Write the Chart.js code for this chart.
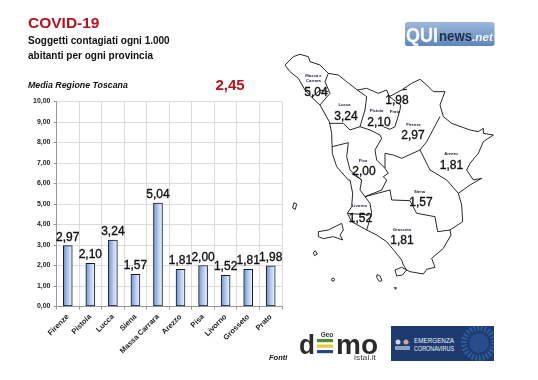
<!DOCTYPE html>
<html><head><meta charset="utf-8">
<script src="https://cdn.jsdelivr.net/npm/chart.js@4"></script>
<style>
html,body{margin:0;padding:0;background:#fff;width:538px;height:380px;overflow:hidden}
#wrap{position:relative;width:538px;height:380px;font-family:"Liberation Sans",Arial,sans-serif}
canvas,svg{position:absolute;left:0;top:0}
.t{position:absolute;white-space:nowrap;line-height:1}
</style></head><body>
<div id="wrap">
<canvas id="c" width="538" height="380"></canvas>
<svg width="538" height="380" viewBox="0 0 538 380" font-family="Liberation Sans, Arial, sans-serif">
 <defs>
  <linearGradient id="qg" x1="0" y1="0" x2="0" y2="1"><stop offset="0" stop-color="#9db9dc"/><stop offset="1" stop-color="#5f86bb"/></linearGradient>
 </defs>
 <g transform="translate(270,10) scale(.33333)" fill="none" stroke="#111" stroke-width="2.7" stroke-linejoin="round">
  <path d="M45,165 L70,140 L90,133 L115,140 L120,155 L150,165 L175,190 L205,195 L230,215 L262,240 L290,235 L325,250 L350,240 L358,260 L395,240 L410,238 L398,238 L425,220 L450,208 L470,225 L490,245 L525,245 L510,285 L520,320 L545,340 L600,360 L625,365 L640,355 L640,370 L670,375 L640,395 L625,430 L600,460 L590,480 L610,510 L635,505 L600,525 L565,550 L575,585 L578,635 L540,660 L543,675 L520,715 L485,745 L495,772 L470,778 L460,792 L420,785 L410,780 L400,765 L395,750 L375,725 L350,695 L320,675 L290,660 L245,635 L232,610 L245,590 L248,550 L240,510 L235,510 L200,470 L187,430 L185,370 L178,335 L150,285 L125,262 L105,240 L85,205 L60,185 Z"/>
  <path d="M175,190 L165,215 L180,250 L150,285 M125,262 L150,240 L175,245"/>
  <path d="M262,240 L290,260 L285,300 L270,350 L240,360 L220,340 L178,340"/>
  <path d="M270,350 L300,360 L330,375 L335,385 L315,420 L320,450 L345,475 L355,490 L340,500 L350,510 L335,540 L285,560"/>
  <path d="M358,260 L392,285 L390,300 L375,350 L360,358 L340,350"/>
  <path d="M345,475 L345,430 L370,435 L395,445 L450,420 L470,395 L510,320"/>
  <path d="M187,410 L235,398 L230,440 L240,480 L275,510 L270,540 L285,560 L300,580 L305,610 L290,660"/>
  <path d="M450,420 L480,480 L530,510 L565,550"/>
  <path d="M285,560 L360,540 L365,570 L420,572 L440,610 L495,620 L503,665 L540,660"/>
  <path d="M232,610 L298,615"/>
  <path d="M275,510 L245,490"/>
 </g>
 <g transform="translate(270,180) scale(.33333)" fill="none" stroke="#111" stroke-width="2.7" stroke-linejoin="round">
  <path d="M72,68 L80,72 L76,88 L68,84 Z"/>
  <path d="M130,218 L136,212 L142,222 L134,227 Z"/>
  <path d="M145,155 L175,150 L195,140 L215,130 L220,150 L210,165 L218,180 L190,170 L160,176 L145,170 Z"/>
  <circle cx="189" cy="299" r="4.5"/>
  <path d="M321,284 L330,288 L336,302 L328,304 L320,292 Z"/>
  <path d="M373,323 L379,323 L377,328 Z"/>
  <path d="M375,270 L395,262 L410,270 L397,285 L380,288 Z"/>
 </g>
 <g font-weight="bold" fill="#1b1b33" font-size="4.2" text-anchor="middle">
  <text x="313.5" y="77">Massa e</text><text x="313.5" y="82">Carrara</text>
  <text x="344.5" y="106">Lucca</text><text x="376.5" y="112">Pistoia</text>
  <text x="395" y="113">Prato</text><text x="413.5" y="126">Firenze</text>
  <text x="451" y="155">Arezzo</text><text x="363" y="162">Pisa</text>
  <text x="419.5" y="193">Siena</text><text x="359.5" y="207">Livorno</text><text x="402" y="231">Grosseto</text>
 </g>
 <g font-size="12" font-weight="500" fill="#111" text-anchor="middle" stroke="#111" stroke-width=".35">
  <text x="316" y="96">5,04</text><text x="346" y="120">3,24</text><text x="397" y="104">1,98</text>
  <text x="379" y="126">2,10</text><text x="413" y="139">2,97</text><text x="451.5" y="169">1,81</text>
  <text x="364" y="175">2,00</text><text x="421" y="206">1,57</text><text x="360.5" y="222">1,52</text><text x="402" y="244">1,81</text>
 </g>
 <!-- QUInews logo -->
 <rect x="405" y="22" width="89.5" height="24" rx="2.5" fill="url(#qg)"/>
 <text x="406" y="42" font-size="21" font-weight="bold" fill="#fff" stroke="#dfe8f4" stroke-width=".4" textLength="32" lengthAdjust="spacingAndGlyphs">QUI</text>
 <text x="439" y="41" font-size="14" font-weight="bold" fill="#253045" textLength="33" lengthAdjust="spacingAndGlyphs">news</text>
 <text x="472" y="41" font-size="11" font-weight="bold" font-style="italic" fill="#f2f5fa" textLength="21" lengthAdjust="spacingAndGlyphs">.net</text>
 <!-- Geo dEmo logo -->
 <text x="327" y="337" font-size="6.5" font-weight="bold" fill="#333" text-anchor="middle">Geo</text>
 <text x="299" y="353.5" font-size="28" font-weight="bold" fill="#2b2b2b" textLength="16" lengthAdjust="spacingAndGlyphs">d</text>
 <rect x="317" y="339" width="16" height="3.2" fill="#4f8a2d"/>
 <rect x="317" y="344.5" width="16" height="3.2" fill="#e7c93a"/>
 <rect x="317" y="350" width="16" height="3.2" fill="#24497f"/>
 <text x="336" y="353.5" font-size="27" font-weight="bold" fill="#2b2b2b" textLength="42" lengthAdjust="spacingAndGlyphs">mo</text>
 <text x="354" y="360" font-size="7" fill="#444" textLength="22" lengthAdjust="spacingAndGlyphs">istal.it</text>
 <!-- Emergenza logo -->
 <svg x="391" y="326" width="103" height="35" viewBox="391 326 103 35">
 <rect x="391" y="326" width="103" height="35" fill="#1d3b6f"/>
 <circle cx="479" cy="343" r="15" fill="none" stroke="#2f5a9c" stroke-width="6" stroke-dasharray="2 1.6"/>
 <circle cx="479" cy="343" r="10" fill="#274d8c"/>
 <circle cx="398" cy="342" r="2.5" fill="#cfd4dc"/><circle cx="406" cy="342" r="2.5" fill="#c9a9a0"/>
 <rect x="395" y="346" width="15" height="4" fill="#8ea0bd"/>
 <text x="414" y="343" font-size="6.6" fill="#f2f5fa" textLength="40" lengthAdjust="spacingAndGlyphs">EMERGENZA</text>
 <text x="414" y="350.5" font-size="6.6" fill="#f2f5fa" textLength="40" lengthAdjust="spacingAndGlyphs">CORONAVIRUS</text>
 </svg>
</svg>
<div class="t" style="left:28px;top:15px;font-size:15.5px;font-weight:bold;color:#b5121b">COVID-19</div>
<div class="t" style="left:28px;top:36px;font-size:10px;font-weight:bold;color:#111">Soggetti contagiati ogni 1.000</div>
<div class="t" style="left:28px;top:51px;font-size:10px;font-weight:bold;color:#111">abitanti per ogni provincia</div>
<div class="t" style="left:28px;top:81px;font-size:8.8px;font-weight:bold;font-style:italic;color:#111">Media Regione Toscana</div>
<div class="t" style="left:215.5px;top:77px;font-size:15px;font-weight:bold;color:#b5121b">2,45</div>
<div class="t" style="left:269px;top:354px;font-size:7.5px;font-weight:bold;font-style:italic;color:#111">Fonti</div>
</div>
<script>
const categories = ["Firenze","Pistoia","Lucca","Siena","Massa Carrara","Arezzo","Pisa","Livorno","Grosseto","Prato"];
const contagiati = [2.97,2.10,3.24,1.57,5.04,1.81,2.00,1.52,1.81,1.98];
const fmt = v => Number(v).toFixed(2).replace('.',',');
const valueLabels = {
  id:'valueLabels',
  afterDatasetsDraw(chart){
    const {ctx}=chart; const meta=chart.getDatasetMeta(0);
    ctx.save();
    ctx.font='500 12px "Liberation Sans"'; ctx.fillStyle='#111'; ctx.strokeStyle='#111'; ctx.lineWidth=.35;
    ctx.textAlign='center'; ctx.textBaseline='alphabetic';
    meta.data.forEach((el,i)=>{
      const t=fmt(contagiati[i]);
      ctx.fillText(t,el.x,el.y-5); ctx.strokeText(t,el.x,el.y-5);
    });
    ctx.restore();
  }
};
function barFill(c){
  const a=c.chart.chartArea; if(!a) return '#8fb0e0';
  const x=c.chart.scales.x.getPixelForValue(c.dataIndex);
  const g=c.chart.ctx.createLinearGradient(x-4.5,0,x+4.5,0);
  g.addColorStop(0,'#6f92d0'); g.addColorStop(.5,'#b4c9ea'); g.addColorStop(1,'#f2f6fc');
  return g;
}
new Chart(document.getElementById('c'),{
  type:'bar',
  data:{labels:categories,datasets:[{data:contagiati,backgroundColor:barFill,borderColor:'#14182a',borderWidth:1,barThickness:9,borderSkipped:false}]},
  plugins:[valueLabels],
  options:{
    responsive:false,animation:false,
    layout:{padding:{top:101.5,right:256,left:0,bottom:0}},
    plugins:{legend:{display:false},tooltip:{enabled:false},title:{display:false}},
    scales:{
      x:{
        afterFit(s){s.height=73.5;},
        grid:{color:'#dcdcdc',lineWidth:1,tickColor:'#999',tickLength:3},
        border:{color:'#999'},
        ticks:{minRotation:45,maxRotation:45,autoSkip:false,padding:3,color:'#222',font:{family:'"Liberation Sans"',size:7.5,weight:'bold'}}
      },
      y:{
        min:0,max:10,
        afterFit(s){s.width=56.5;},
        afterBuildTicks(s){s.ticks=[0,1,2,3,4,5,6,7,8,9,10].map(v=>({value:v}));},
        grid:{color:'#dcdcdc',lineWidth:1,tickColor:'#999',tickLength:3},
        border:{color:'#999'},
        ticks:{padding:3,color:'#222',font:{family:'"Liberation Sans"',size:7,weight:'bold'},callback:v=>fmt(v)}
      }
    }
  }
});
</script>
</body></html>
